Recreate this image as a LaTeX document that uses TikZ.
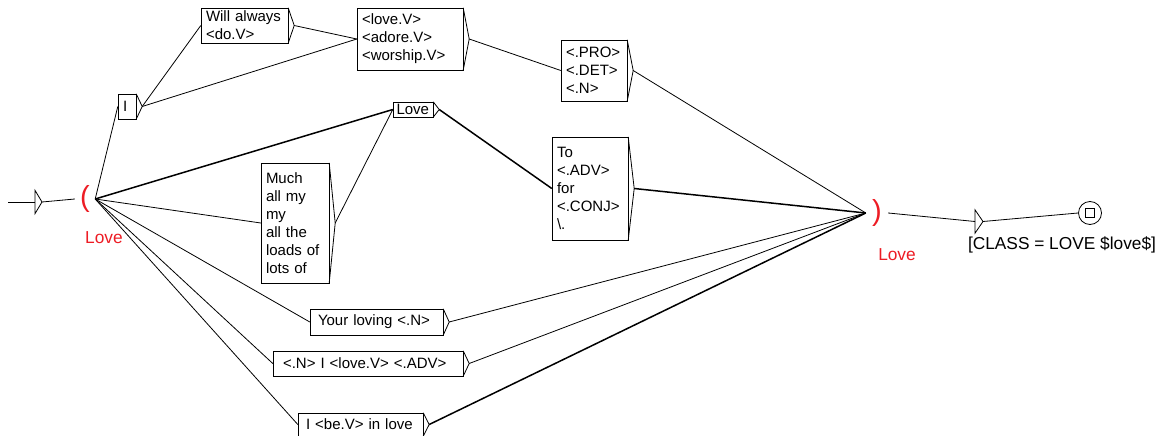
\documentclass[tikz,border=0pt]{standalone}
\usepackage{fontspec}
\setmainfont{Liberation Sans}
\usepackage{xcolor}
\usetikzlibrary{positioning}
\definecolor{lred}{RGB}{237,28,36}
\newcommand\ufont{\fontsize{15}{18}\selectfont}
\newcommand\lfont{\fontsize{17.3}{20}\selectfont}

\begin{document}
\begin{tikzpicture}[x=1pt, y=-1pt,
    unibox/.style={draw, rectangle, inner xsep=5pt, inner ysep=0pt, align=left, font=\ufont},
    paren/.style={text=lred, inner sep=0pt, font=\fontsize{29}{29}\selectfont},
    redlbl/.style={text=lred, inner sep=0pt, font=\lfont},
    tr/.style={line width=0.8pt},
    trb/.style={line width=1.5pt}]
    \useasboundingbox (0,0) rectangle (1163,436);
    \def\tl{6}

    \coordinate(s0) at (8,202);
    \node(init) [inner sep=0pt, minimum width=0pt, minimum height=23pt] at (35,202) {};
    \node(lpar) [paren, minimum width=20pt] at (85,199) {(};
    \node(llbl) [redlbl] at (104,238) {Love};

    \node(i) [unibox, text width=8pt, minimum height=25pt] at (127,106.5) {I};
    \node(will) [unibox, text width=77pt, minimum height=35pt] at (244.5,25.5) {Will always\\<do.V>};
    \node(lv) [unibox, text width=96pt, minimum height=62pt] at (410,39) {<love.V>\\<adore.V>\\<worship.V>};
    \node(love) [unibox, inner xsep=3.5pt, text width=33pt, minimum height=15pt] at (413,109.5) {Love};
    \node(pro) [unibox, text width=56pt, minimum height=61pt] at (594,70.5) {<.PRO>\\<.DET>\\<.N>};
    \node(to) [unibox, text width=66pt, minimum height=103pt] at (590,188.5) {To\\<.ADV>\\for\\<.CONJ>\\\textbackslash.};
    \node(much) [unibox, text width=58pt, minimum height=120pt] at (295,223) {Much\\all my\\my\\all the\\loads of\\lots of};
    \node(your) [unibox, inner xsep=8pt, text width=117pt, minimum height=26pt] at (376.5,322) {Your loving <.N>};
    \node(nlove) [unibox, inner xsep=10pt, text width=170pt, minimum height=25pt] at (368,363.5) {<.N> I <love.V> <.ADV>};
    \node(be) [unibox, inner xsep=8pt, text width=109pt, minimum height=23pt] at (360.5,424.5) {I <be.V> in love};

    \node(rpar) [paren, minimum width=22pt] at (877,213) {)};
    \node(rlbl) [redlbl] at (897,255) {Love};
    \node(out) [inner sep=0pt, minimum width=0pt, minimum height=23pt] at (975,221.5) {};
    \node(cls) [inner sep=0pt, font=\lfont] at (1062,245) {[CLASS = LOVE \$love\$]};
    \node(fin) [circle, draw, line width=0.8pt, minimum size=23pt, inner sep=0pt] at (1090,213) {};
    \node(finsq) [draw, line width=0.8pt, minimum size=9pt, inner sep=0pt] at (fin) {};

    \foreach \n in {i,will,lv,love,pro,to,much,your,nlove,be}
        \draw[tr] (\n.north east) -- ([xshift=\tl pt]\n.east) coordinate (\n-t) -- (\n.south east);
    \draw[tr] (init.north) -- ([xshift=7pt]init.center) coordinate (init-t) -- (init.south) -- cycle;
    \draw[tr] (out.north) -- ([xshift=8pt]out.center) coordinate (out-t) -- (out.south) -- cycle;

    \draw[tr] (s0) -- (init.center);
    \draw[tr] (init-t) -- (lpar.west);
    \draw[tr] (lpar.east) -- (i.west);
    \draw[trb] (lpar.east) -- (love.west);
    \draw[tr] (lpar.east) -- (much.west);
    \draw[tr] (lpar.east) -- (your.west);
    \draw[tr] (lpar.east) -- (nlove.west);
    \draw[tr] (lpar.east) -- (be.west);
    \draw[tr] (i-t) -- (will.west);
    \draw[tr] (i-t) -- (lv.west);
    \draw[tr] (will-t) -- (lv.west);
    \draw[tr] (lv-t) -- (pro.west);
    \draw[tr] (pro-t) -- (rpar.west);
    \draw[tr] (much-t) -- (love.west);
    \draw[trb] (love-t) -- (to.west);
    \draw[trb] (to-t) -- (rpar.west);
    \draw[tr] (your-t) -- (rpar.west);
    \draw[tr] (nlove-t) -- (rpar.west);
    \draw[trb] (be-t) -- (rpar.west);
    \draw[tr] (rpar.east) -- (out.center);
    \draw[tr] (out-t) -- (fin.west);
\end{tikzpicture}
\end{document}
